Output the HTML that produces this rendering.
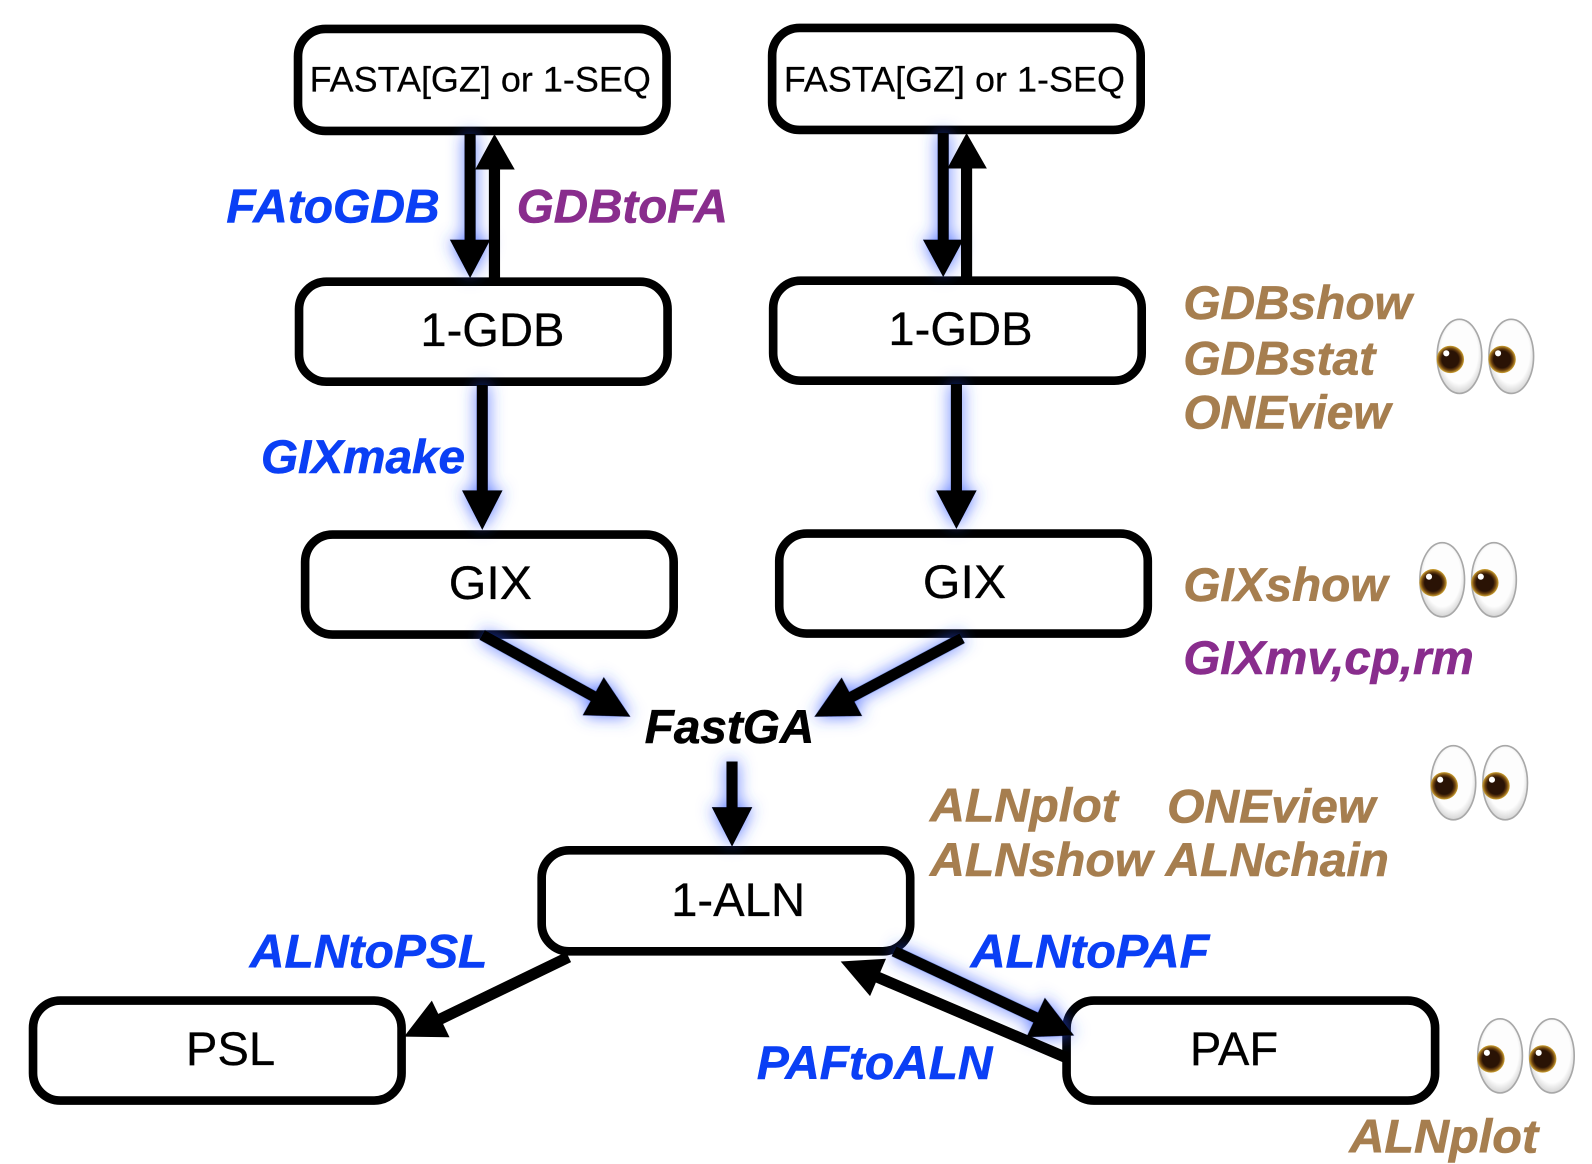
<!DOCTYPE html>
<html><head><meta charset="utf-8"><style>
html,body{margin:0;padding:0;background:#fff}
svg{display:block}
text{font-family:"Liberation Sans",Arial,sans-serif}
.n{font-size:47px;fill:#000;stroke:#000;stroke-width:.25px}
.f{font-size:35px;fill:#000;stroke:#000;stroke-width:.2px}
.b{font-size:47px;font-weight:bold;font-style:italic;stroke-width:.6px}
.blue{fill:#0a3ff5;stroke:#0a3ff5}.pur{fill:#892d8d;stroke:#892d8d}.tan{fill:#a67e4f;stroke:#a67e4f}
rect{fill:#fff;stroke:#000;stroke-width:8.5}
line{stroke:#000;stroke-width:11}
</style></head><body>
<svg width="1592" height="1164" viewBox="0 0 1568 1146.5" xmlns="http://www.w3.org/2000/svg">
<defs>
<filter id="g" x="-80%" y="-80%" width="260%" height="260%" filterUnits="objectBoundingBox"><feGaussianBlur in="SourceAlpha" stdDeviation="8" result="b"/><feFlood flood-color="#2f55ff" flood-opacity="0.8"/><feComposite in2="b" operator="in" result="c"/><feMerge><feMergeNode in="c"/><feMergeNode in="SourceGraphic"/></feMerge></filter>
<radialGradient id="w" cx="50%" cy="45%" r="55%"><stop offset="0.75" stop-color="#fdfdfd"/><stop offset="1" stop-color="#d4d4d4"/></radialGradient>
<radialGradient id="p" cx="50%" cy="50%" r="50%"><stop offset="0.62" stop-color="#2a1305"/><stop offset="0.8" stop-color="#6e430f"/><stop offset="1" stop-color="#d0a432"/></radialGradient>
<g id="eye"><ellipse rx="22" ry="36.5" fill="url(#w)" stroke="#a8a8a8" stroke-width="1.6"/><circle cx="-9" cy="3" r="13.5" fill="url(#p)"/><circle cx="-13" cy="-3" r="3" fill="#fff"/></g>
<g id="eyes"><use href="#eye" x="0" y="0"/><use href="#eye" x="51" y="0"/></g>
</defs>

<rect x="293.5" y="28.5" width="363" height="100.5" rx="27"/>
<rect x="760.5" y="27.5" width="363" height="100.5" rx="27"/>
<rect x="294.5" y="277.5" width="363" height="98.5" rx="27"/>
<rect x="761.5" y="276.5" width="363" height="98.5" rx="27"/>
<rect x="300.5" y="526.5" width="363" height="98.5" rx="27"/>
<rect x="767.5" y="525.5" width="363" height="98.5" rx="27"/>
<rect x="533.5" y="837.5" width="363" height="99.5" rx="27"/>
<rect x="32.5" y="985.5" width="363" height="98.5" rx="27"/>
<rect x="1050.5" y="985.5" width="363" height="98.5" rx="27"/>

<g filter="url(#g)"><line x1="463" y1="132" x2="463" y2="240"/><path d="M443 236H483L463 274Z"/></g>
<g><line x1="487" y1="274" x2="487" y2="165"/><path d="M468 167H507L487 132Z"/></g>
<g filter="url(#g)"><line x1="929" y1="131" x2="929" y2="240"/><path d="M909 236H949L929 273Z"/></g>
<g><line x1="952" y1="273" x2="952" y2="165"/><path d="M933 166H972L952 131Z"/></g>
<g filter="url(#g)"><line x1="475" y1="379" x2="475" y2="488"/><path d="M455 483H495L475 522Z"/></g>
<g filter="url(#g)"><line x1="942" y1="378" x2="942" y2="488"/><path d="M922 483H962L942 521Z"/></g>
<g filter="url(#g)" transform="translate(621,706) rotate(28.9)"><line x1="-167" y1="0" x2="-30" y2="0"/><path d="M0 0L-42 -21.5L-42 21.5Z"/></g>
<g filter="url(#g)" transform="translate(802,706) rotate(152)"><line x1="-165" y1="0" x2="-30" y2="0"/><path d="M0 0L-42 -21.5L-42 21.5Z"/></g>
<g filter="url(#g)"><line x1="721" y1="750" x2="721" y2="800"/><path d="M701 795H741L721 834Z"/></g>
<g transform="translate(398,1021) rotate(154.2)"><line x1="-180" y1="0" x2="-30" y2="0"/><path d="M0 0L-40 -20L-40 20Z"/></g>
<g filter="url(#g)" transform="translate(1058,1020) rotate(25.1)"><line x1="-196" y1="0" x2="-30" y2="0"/><path d="M0 0L-42 -21.5L-42 21.5Z"/></g>
<g transform="translate(828,947) rotate(23.1)"><line x1="30" y1="0" x2="243" y2="0"/><path d="M0 0L40 -20L40 20Z"/></g>

<text class="f" x="305" y="90" textLength="336" lengthAdjust="spacingAndGlyphs">FASTA[GZ] or 1-SEQ</text>
<text class="f" x="772" y="90" textLength="336" lengthAdjust="spacingAndGlyphs">FASTA[GZ] or 1-SEQ</text>
<text class="n" x="414" y="341" textLength="142" lengthAdjust="spacingAndGlyphs">1-GDB</text>
<text class="n" x="875" y="340" textLength="142" lengthAdjust="spacingAndGlyphs">1-GDB</text>
<text class="n" x="442" y="590" textLength="82" lengthAdjust="spacingAndGlyphs">GIX</text>
<text class="n" x="909" y="589" textLength="82" lengthAdjust="spacingAndGlyphs">GIX</text>
<text class="n" x="661" y="902" textLength="132" lengthAdjust="spacingAndGlyphs">1-ALN</text>
<text class="n" x="183" y="1049" textLength="88" lengthAdjust="spacingAndGlyphs">PSL</text>
<text class="n" x="1172" y="1049" textLength="87" lengthAdjust="spacingAndGlyphs">PAF</text>

<text class="b blue" x="223" y="219" textLength="210" lengthAdjust="spacingAndGlyphs">FAtoGDB</text>
<text class="b pur" x="509" y="219" textLength="208" lengthAdjust="spacingAndGlyphs">GDBtoFA</text>
<text class="b blue" x="257" y="466" textLength="201" lengthAdjust="spacingAndGlyphs">GIXmake</text>
<text class="b tan" x="1165.5" y="314" textLength="225" lengthAdjust="spacingAndGlyphs">GDBshow</text>
<text class="b tan" x="1165.5" y="369" textLength="189" lengthAdjust="spacingAndGlyphs">GDBstat</text>
<text class="b tan" x="1165.5" y="422" textLength="204" lengthAdjust="spacingAndGlyphs">ONEview</text>
<text class="b tan" x="1165.5" y="592" textLength="201" lengthAdjust="spacingAndGlyphs">GIXshow</text>
<text class="b pur" x="1165.5" y="664" textLength="286" lengthAdjust="spacingAndGlyphs">GIXmv,cp,rm</text>
<text class="b" x="635" y="732" fill="#000" stroke="#000" textLength="167" lengthAdjust="spacingAndGlyphs">FastGA</text>
<text class="b tan" x="916" y="809" textLength="185" lengthAdjust="spacingAndGlyphs">ALNplot</text>
<text class="b tan" x="1149.5" y="810" textLength="205" lengthAdjust="spacingAndGlyphs">ONEview</text>
<text class="b tan" x="916" y="863" textLength="219" lengthAdjust="spacingAndGlyphs">ALNshow</text>
<text class="b tan" x="1148" y="863" textLength="220" lengthAdjust="spacingAndGlyphs">ALNchain</text>
<text class="b blue" x="246" y="953" textLength="234" lengthAdjust="spacingAndGlyphs">ALNtoPSL</text>
<text class="b blue" x="956" y="953" textLength="235" lengthAdjust="spacingAndGlyphs">ALNtoPAF</text>
<text class="b blue" x="745.5" y="1063" textLength="232" lengthAdjust="spacingAndGlyphs">PAFtoALN</text>
<text class="b tan" x="1329" y="1135" textLength="186" lengthAdjust="spacingAndGlyphs">ALNplot</text>

<use href="#eyes" x="1437.5" y="351"/>
<use href="#eyes" x="1420.5" y="571"/>
<use href="#eyes" x="1431.5" y="771"/>
<use href="#eyes" x="1477.5" y="1040"/>
</svg>
</body></html>
